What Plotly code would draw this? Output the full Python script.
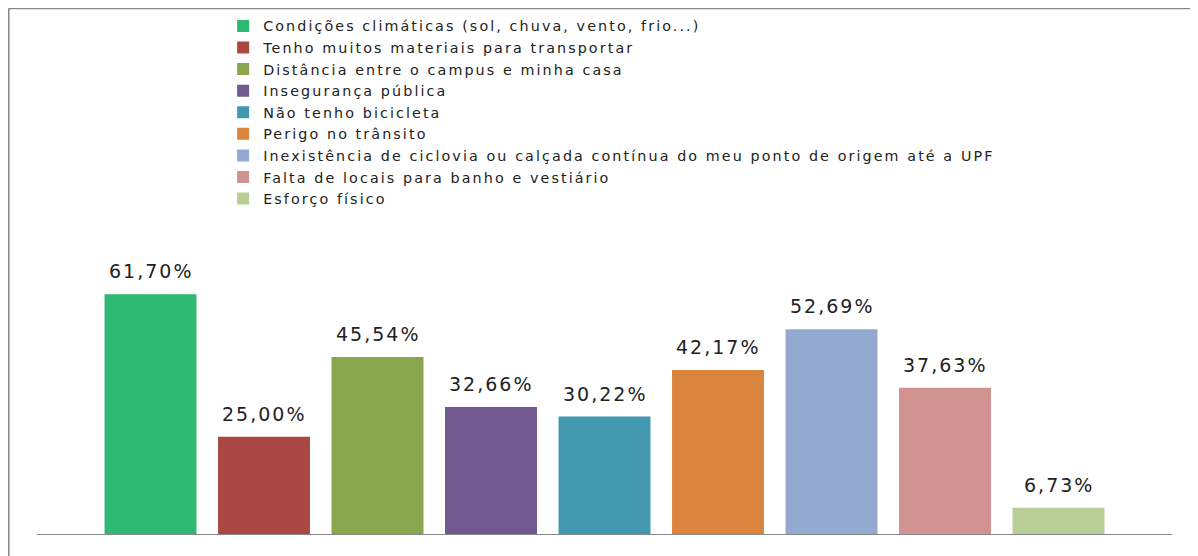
import plotly.graph_objects as go

# Motivos para não usar bicicleta (% dos respondentes)
categorias = [
    "Condições climáticas (sol, chuva, vento, frio...)",
    "Tenho muitos materiais para transportar",
    "Distância entre o campus e minha casa",
    "Insegurança pública",
    "Não tenho bicicleta",
    "Perigo no trânsito",
    "Inexistência de ciclovia ou calçada contínua do meu ponto de origem até a UPF",
    "Falta de locais para banho e vestiário",
    "Esforço físico",
]
valores = [61.70, 25.00, 45.54, 32.66, 30.22, 42.17, 52.69, 37.63, 6.73]
rotulos = ["61,70%", "25,00%", "45,54%", "32,66%", "30,22%", "42,17%", "52,69%", "37,63%", "6,73%"]
cores = ["#2EB872", "#AA4643", "#89A54E", "#71588F", "#4198AF",
         "#DB843D", "#93A9CF", "#D19392", "#B9CD96"]

fig = go.Figure()
for i, (cat, val, cor) in enumerate(zip(categorias, valores, cores)):
    fig.add_trace(go.Bar(
        x=[i], y=[val], width=0.81,
        name='<span style="letter-spacing:2.1px">' + cat + '</span>',
        marker=dict(color=cor, line=dict(width=0)),
        hovertemplate=cat + ": %{y}%<extra></extra>",
    ))

# rótulos de dados acima das barras
for i, (val, txt) in enumerate(zip(valores, rotulos)):
    fig.add_annotation(
        x=i, y=val, showarrow=False, yshift=23,
        text='<span style="letter-spacing:2px">' + txt + '</span>',
        font=dict(family="DejaVu Sans", size=19, color="#222222"),
    )

# moldura cortada (linhas superior e esquerda)
fig.add_shape(type="line", xref="paper", yref="paper",
              x0=-0.0251, x1=1.05, y0=0.999, y1=0.999,
              line=dict(color="#878787", width=1.5))
fig.add_shape(type="line", xref="paper", yref="paper",
              x0=-0.0251, x1=-0.0251, y0=0.999, y1=-0.1,
              line=dict(color="#878787", width=2))

fig.update_layout(
    width=1190, height=548,
    margin=dict(l=29, r=26, t=0, b=22),
    paper_bgcolor="white", plot_bgcolor="white",
    barmode="overlay",
    showlegend=True,
    legend=dict(
        x=0.164, y=0.996, xanchor="left", yanchor="top",
        font=dict(family="DejaVu Sans", size=14.3, color="#222222"),
        bgcolor="rgba(0,0,0,0)", tracegroupgap=0,
    ),
    xaxis=dict(range=[-1, 9], showline=True, linecolor="#878787", linewidth=1,
               showticklabels=False, showgrid=False, zeroline=False, ticks=""),
    yaxis=dict(range=[0, 135.35], visible=False, showgrid=False, zeroline=False),
)

fig.write_html("out.html")
